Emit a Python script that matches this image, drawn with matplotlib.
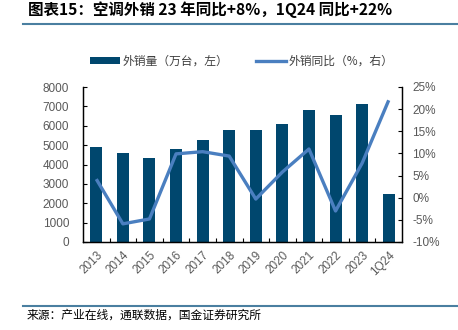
import matplotlib

matplotlib.use("Agg")
import matplotlib.pyplot as plt
from matplotlib.lines import Line2D
from matplotlib.patches import Patch
import numpy as np

plt.rcParams["font.family"] = ["Liberation Sans", "Noto Sans CJK SC", "DejaVu Sans"]

CATEGORIES = ["2013", "2014", "2015", "2016", "2017", "2018", "2019",
              "2020", "2021", "2022", "2023", "1Q24"]
EXPORT_VOLUME = [4900, 4600, 4330, 4780, 5270, 5780, 5780, 6100, 6800, 6550, 7100, 2500]
EXPORT_YOY = [4.2, -5.9, -4.8, 9.9, 10.4, 9.4, -0.3, 5.8, 11.0, -3.0, 7.8, 22.0]

BAR_COLOR = "#00476E"
LINE_COLOR = "#4A7FC0"
TICK_COLOR = "#595959"
CJK = ["Noto Sans CJK SC", "DejaVu Sans"]
FS = 8.5

fig = plt.figure(figsize=(4.58, 3.30), dpi=100)
ax = fig.add_axes([83 / 458, 1 - 242 / 330, 319 / 458, 155 / 330])
ax2 = ax.twinx()

x = np.arange(len(CATEGORIES))
ax.bar(x, EXPORT_VOLUME, width=0.45, color=BAR_COLOR, zorder=2)
ax2.plot(x, EXPORT_YOY, color=LINE_COLOR, lw=2.4, solid_capstyle="butt", zorder=3)

ax.set_xlim(-0.5, len(CATEGORIES) - 0.5)
ax.set_ylim(0, 8000)
ax.set_yticks(np.arange(0, 8001, 1000))
ax2.set_ylim(-10, 25)
ax2.set_yticks(np.arange(-10, 26, 5))
ax2.set_yticklabels([f"{v}%" for v in range(-10, 26, 5)])

ax.set_xticks(x)
ax.set_xticklabels(CATEGORIES, rotation=45, ha="right", rotation_mode="anchor")
ax.set_xticks(np.arange(0.5, len(CATEGORIES) - 0.5, 1), minor=True)
ax.tick_params(axis="x", which="major", length=0, pad=5, labelsize=FS, labelcolor=TICK_COLOR)
ax.tick_params(axis="x", which="minor", direction="in", length=3, width=0.8)
ax.tick_params(axis="y", direction="in", length=3, width=0.8, labelsize=FS,
               labelcolor=TICK_COLOR, pad=10)
ax2.tick_params(axis="y", direction="in", length=3, width=0.8, labelsize=FS,
                labelcolor=TICK_COLOR, pad=7.5)

for a in (ax, ax2):
    a.spines["top"].set_visible(False)
    for s in ("left", "right", "bottom"):
        a.spines[s].set_linewidth(0.9)
        a.spines[s].set_color("black")

handles = [
    Patch(facecolor=BAR_COLOR, edgecolor="none", label="外销量（万台，左）"),
    Line2D([0], [0], color=LINE_COLOR, lw=2.4, label="外销同比（%，右）"),
]
leg = fig.legend(handles=handles, loc="center left", bbox_to_anchor=(85 / 458, 1 - 61 / 330),
                 ncol=2, frameon=False, handlelength=2.6, handleheight=0.5,
                 handletextpad=0.2, columnspacing=2.3, borderaxespad=0,
                 prop={"family": CJK, "size": FS})
for t in leg.get_texts():
    t.set_color("#404040")

fig.text(28 / 458, 1 - 10 / 330, "图表15：空调外销 23 年同比+8%，1Q24 同比+22%",
         family=CJK, fontsize=11.2, fontweight="bold", fontstyle="italic",
         va="center", ha="left", color="black")
fig.add_artist(Line2D([23 / 458, 1], [1 - 24 / 330] * 2, color="#4A7FA0", lw=1.5))
fig.add_artist(Line2D([23 / 458, 1], [1 - 305.5 / 330] * 2, color="#4A7FA0", lw=1.5))
fig.text(27 / 458, 1 - 315 / 330, "来源：产业在线，通联数据，国金证券研究所",
         family=CJK, fontsize=FS, va="center", ha="left", color="black")

fig.savefig("out.png", dpi=100)
